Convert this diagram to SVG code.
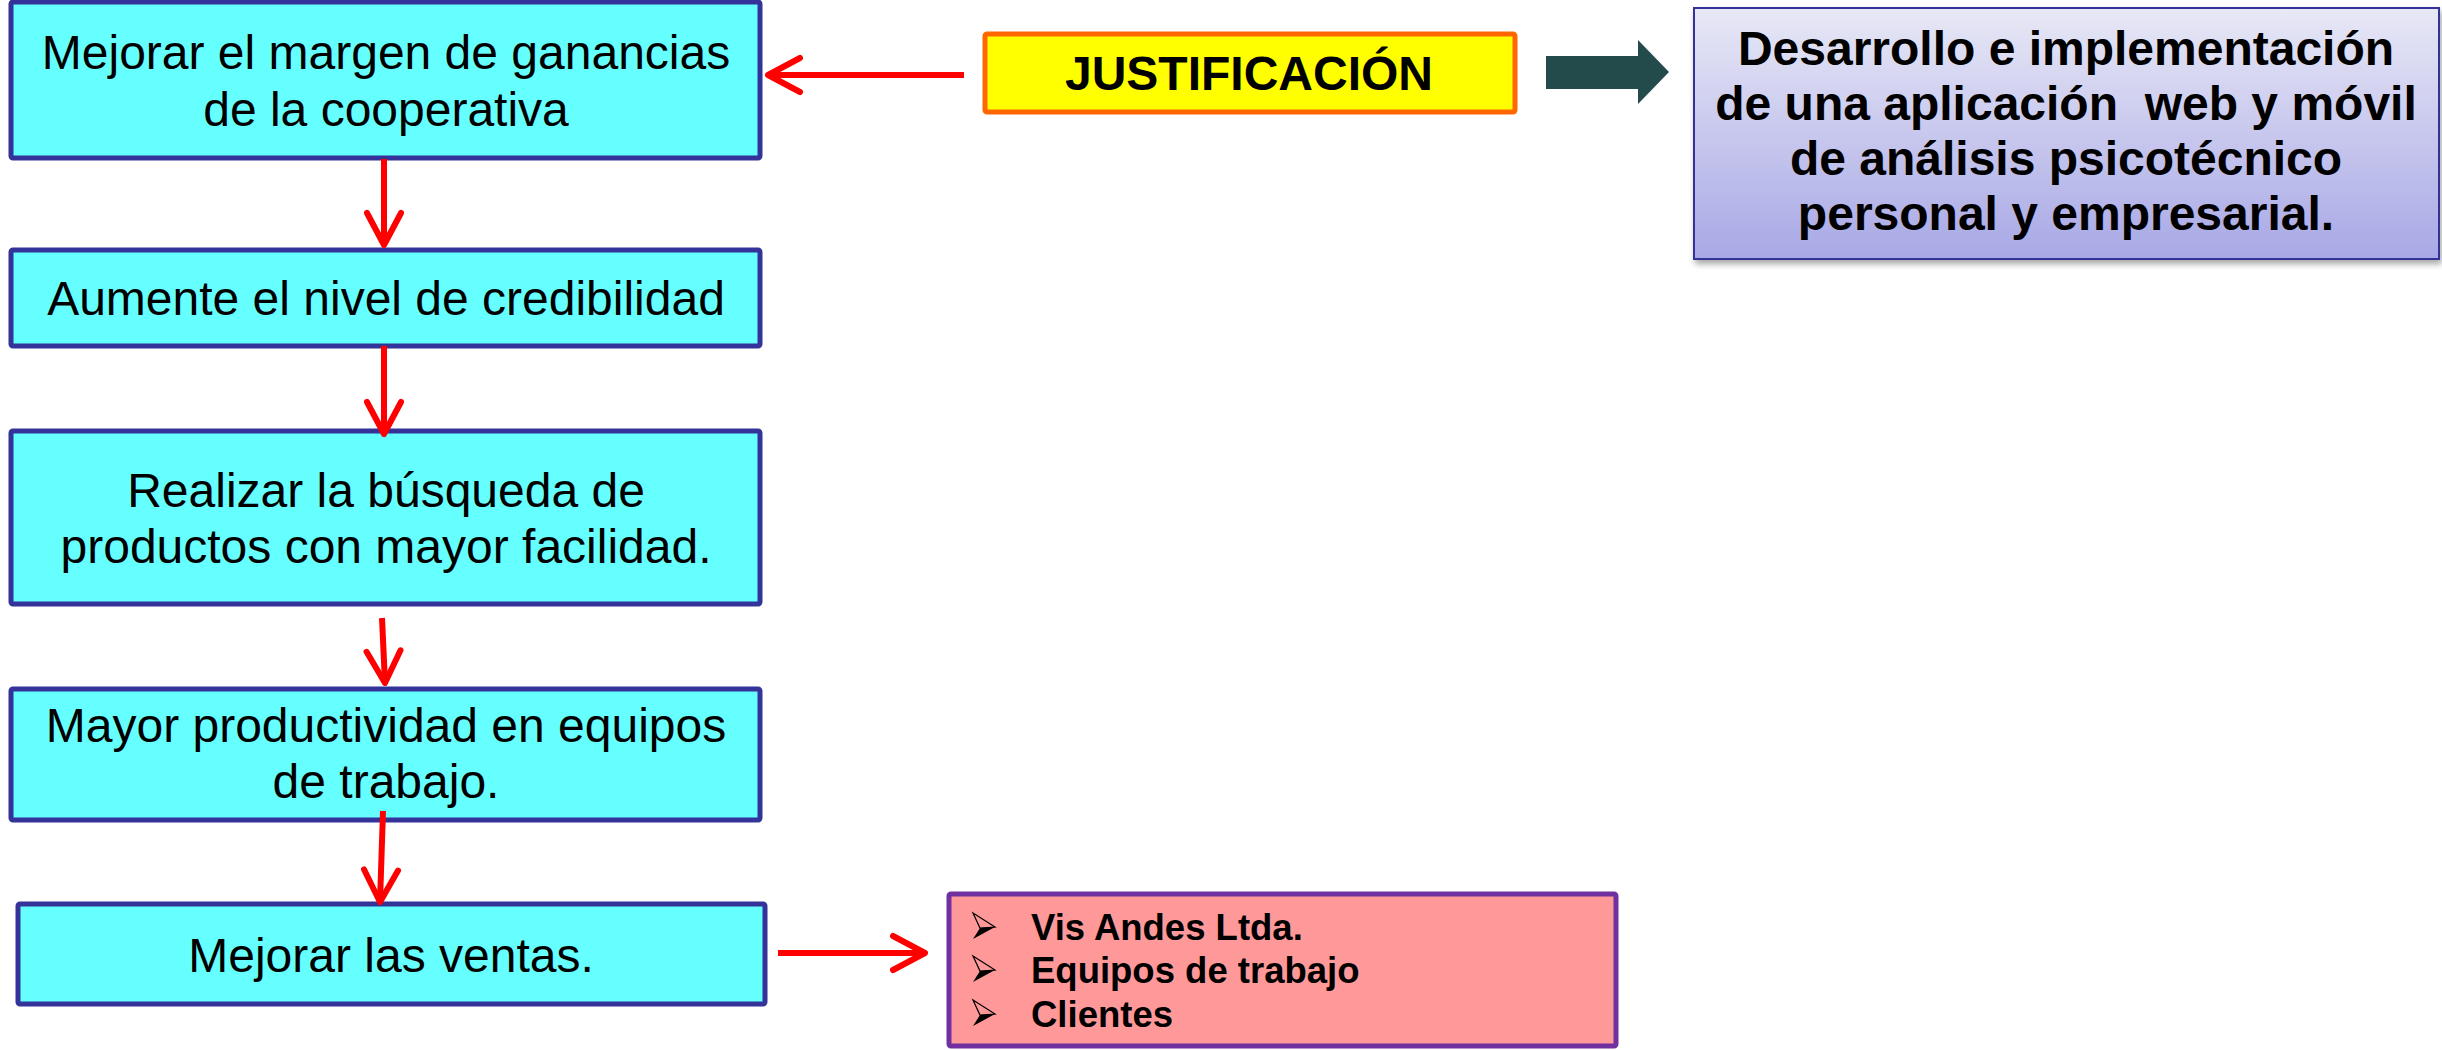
<svg xmlns="http://www.w3.org/2000/svg" width="2442" height="1050" viewBox="0 0 2442 1050">
<style>
.step{fill:#66FFFF;stroke:#333399;stroke-width:5}
.t{font-family:"Liberation Sans",Arial,sans-serif;font-size:48px;fill:#000;text-anchor:middle}
.b{font-weight:bold}
.con{stroke:#FF0000;stroke-width:6;fill:none}
.li{font-family:"Liberation Sans",Arial,sans-serif;font-size:36.5px;font-weight:bold;fill:#000}
</style>
<defs>
<marker id="chev" viewBox="-40 -24 46 48" refX="0" refY="0" markerWidth="46" markerHeight="48" markerUnits="userSpaceOnUse" orient="auto">
<path d="M-32,-17 L0,0 L-32,17" fill="none" stroke="#FF0000" stroke-width="6" stroke-linecap="round" stroke-linejoin="round"/>
</marker>
<linearGradient id="lav" x1="0" y1="0" x2="0" y2="1">
<stop offset="0" stop-color="#E8E8F6"/>
<stop offset="1" stop-color="#A8A8E6"/>
</linearGradient>
<filter id="sh" x="-5%" y="-10%" width="110%" height="125%">
<feDropShadow dx="2" dy="4" stdDeviation="3" flood-color="#000" flood-opacity="0.35"/>
</filter>
<g id="bullet">
<path d="M0,0 L22,14 L7,15 Z" fill="none" stroke="#000" stroke-width="1.2" stroke-linejoin="miter"/>
<path d="M7,15 L22,14 L0,26 Z" fill="#000"/>
</g>
</defs>
<rect width="2442" height="1050" fill="#FFFFFF"/>

<g id="n1">
<rect class="step" x="11" y="2" width="749" height="156" rx="2"/>
<text class="t" x="386" y="69">Mejorar el margen de ganancias</text>
<text class="t" x="386" y="126">de la cooperativa</text>
</g>
<g id="n2">
<rect class="step" x="11" y="250" width="749" height="96" rx="2"/>
<text class="t" x="386" y="315">Aumente el nivel de credibilidad</text>
</g>
<g id="n3">
<rect class="step" x="11" y="431" width="749" height="173" rx="2"/>
<text class="t" x="386" y="507">Realizar la búsqueda de</text>
<text class="t" x="386" y="563">productos con mayor facilidad.</text>
</g>
<g id="n4">
<rect class="step" x="11" y="689" width="749" height="131" rx="2"/>
<text class="t" x="386" y="742">Mayor productividad en equipos</text>
<text class="t" x="386" y="798">de trabajo.</text>
</g>
<g id="n5">
<rect class="step" x="18" y="904" width="747" height="100" rx="2"/>
<text class="t" x="391" y="972">Mejorar las ventas.</text>
</g>
<g id="just">
<rect x="985" y="34" width="530" height="78" rx="2" fill="#FFFF00" stroke="#FF6600" stroke-width="5"/>
<text class="t b" x="1249" y="90">JUSTIFICACIÓN</text>
</g>
<g id="goal">
<rect x="1694" y="8" width="745" height="251" fill="url(#lav)" stroke="#333399" stroke-width="2" filter="url(#sh)"/>
<text class="t b" x="2066" y="65">Desarrollo e implementación</text>
<text class="t b" x="2066" y="120" xml:space="preserve">de una aplicación  web y móvil</text>
<text class="t b" x="2066" y="175">de análisis psicotécnico</text>
<text class="t b" x="2066" y="230">personal y empresarial.</text>
</g>
<g id="list">
<rect x="949" y="894" width="667" height="152" fill="#FF9999" stroke="#7030A0" stroke-width="5" rx="2"/>
<use href="#bullet" x="973" y="913"/>
<use href="#bullet" x="973" y="956"/>
<use href="#bullet" x="973" y="1000"/>
<text class="li" x="1031" y="940">Vis Andes Ltda.</text>
<text class="li" x="1031" y="983">Equipos de trabajo</text>
<text class="li" x="1031" y="1027">Clientes</text>
</g>

<g id="connectors">
<line class="con" x1="964" y1="75" x2="768" y2="75" marker-end="url(#chev)"/>
<path d="M1546,56 H1638 V40 L1669,72 L1638,104 V89 H1546 Z" fill="#234B4B"/>
<line class="con" x1="384" y1="159" x2="384" y2="245" marker-end="url(#chev)"/>
<line class="con" x1="384" y1="346" x2="384" y2="434" marker-end="url(#chev)"/>
<line class="con" x1="382" y1="618" x2="385" y2="683" marker-end="url(#chev)"/>
<line class="con" x1="383" y1="811" x2="380" y2="902" marker-end="url(#chev)"/>
<line class="con" x1="778" y1="953" x2="925" y2="953" marker-end="url(#chev)"/>
</g>
</svg>
